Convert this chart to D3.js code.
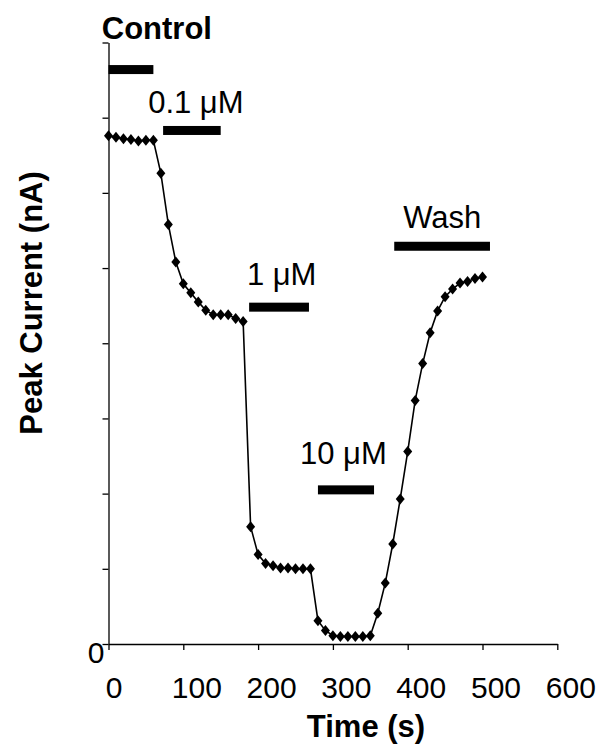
<!DOCTYPE html>
<html>
<head>
<meta charset="utf-8">
<script src="https://cdn.jsdelivr.net/npm/d3@7"></script>
<style>
  body { margin: 0; background: #fff; }
  text { font-family: "Liberation Sans", Arial, sans-serif; fill: #000; }
</style>
</head>
<body>
<div id="chart"></div>
<script>
// time points (s) and peak current (arbitrary units, one unit per y tick)
var times = [0, 10, 20, 30, 40, 50, 60, 70, 80, 90,
             100, 110, 120, 130, 140, 150, 160, 170, 180, 190,
             200, 210, 220, 230, 240, 250, 260, 270, 280, 290,
             300, 310, 320, 330, 340, 350, 360, 370, 380, 390,
             400, 410, 420, 430, 440, 450, 460, 470, 480, 490, 500];
var current = [6.76, 6.74, 6.72, 6.71, 6.69, 6.70, 6.70, 6.26, 5.58, 5.08,
               4.79, 4.67, 4.55, 4.44, 4.38, 4.38, 4.38, 4.33, 4.29, 1.56,
               1.19, 1.07, 1.04, 1.01, 1.01, 1.00, 1.00, 1.00, 0.31, 0.18,
               0.11, 0.10, 0.10, 0.10, 0.10, 0.11, 0.41, 0.81, 1.33, 1.93,
               2.56, 3.24, 3.73, 4.14, 4.43, 4.62, 4.72, 4.80, 4.82, 4.86, 4.88];

// application bars
var barLabels = ["Control", "0.1 \u03bcM", "1 \u03bcM", "10 \u03bcM", "Wash"];
var barStart  = [0, 73, 188, 280, 382];
var barEnd    = [60, 150, 268, 355, 510];
var barLevel  = [7.64, 6.83, 4.48, 2.05, 5.29];
var labelT    = [-9, 53, 185, 256, 394];
var labelV    = [8.05, 7.06, 4.77, 2.39, 5.53];

var xTicks = [0, 100, 200, 300, 400, 500, 600];
var yTicks = [0, 1, 2, 3, 4, 5, 6, 7, 8];

var width = 599,
    height = 745;

var svg = d3.select("#chart").append("svg")
    .attr("width", width)
    .attr("height", height);

var x = d3.scaleLinear().domain([0, 600]).range([108.5, 557.3]);
var y = d3.scaleLinear().domain([0, 8]).range([644, 42.5]);

// x axis
var xAxis = svg.append("g")
    .attr("transform", "translate(0," + y(0) + ")")
    .call(d3.axisBottom(x).tickValues(xTicks).tickSize(6).tickSizeOuter(0));
xAxis.selectAll("text")
    .attr("y", 54)
    .attr("dy", 0)
    .attr("dx", function(d) { return d === 0 ? 5 : 13; })
    .style("font-size", "30px");

// y axis, only the zero is labelled
var yAxis = svg.append("g")
    .attr("transform", "translate(" + x(0) + ",0)")
    .call(d3.axisLeft(y).tickValues(yTicks).tickSize(6).tickSizeOuter(0)
        .tickFormat(function(d) { return d === 0 ? "0" : ""; }));
yAxis.selectAll("text")
    .attr("x", -4)
    .attr("dy", 18)
    .style("font-size", "30px");

svg.selectAll(".domain, .tick line")
    .attr("stroke", "#000")
    .attr("stroke-width", 1.3);

// axis titles
svg.append("text")
    .attr("x", 366)
    .attr("y", 737)
    .attr("text-anchor", "middle")
    .style("font-size", "31px")
    .style("font-weight", "bold")
    .text("Time (s)");

svg.append("text")
    .attr("transform", "translate(42,303) rotate(-90)")
    .attr("text-anchor", "middle")
    .style("font-size", "31px")
    .style("font-weight", "bold")
    .text("Peak Current (nA)");

// drug bars
svg.selectAll(".bar")
    .data(barStart)
    .enter().append("rect")
    .attr("class", "bar")
    .attr("x", function(d) { return x(d); })
    .attr("width", function(d, i) { return x(barEnd[i]) - x(d); })
    .attr("y", function(d, i) { return y(barLevel[i]) - 4.5; })
    .attr("height", 9)
    .attr("fill", "#000");

svg.selectAll(".barlabel")
    .data(barLabels)
    .enter().append("text")
    .attr("class", "barlabel")
    .attr("x", function(d, i) { return x(labelT[i]); })
    .attr("y", function(d, i) { return y(labelV[i]); })
    .style("font-size", "31px")
    .style("font-weight", function(d, i) { return i === 0 ? "bold" : "normal"; })
    .text(function(d) { return d; });

// the trace
var pts = times.map(function(t, i) { return [t, current[i]]; });

var line = d3.line()
    .x(function(d) { return x(d[0]); })
    .y(function(d) { return y(d[1]); });

svg.append("path")
    .datum(pts)
    .attr("d", line)
    .attr("fill", "none")
    .attr("stroke", "#000")
    .attr("stroke-width", 1.6);

svg.selectAll(".pt")
    .data(pts)
    .enter().append("path")
    .attr("class", "pt")
    .attr("transform", function(d) { return "translate(" + x(d[0]) + "," + y(d[1]) + ")"; })
    .attr("d", "M0,-5.5L4.5,0L0,5.5L-4.5,0Z")
    .attr("fill", "#000");
</script>
</body>
</html>
